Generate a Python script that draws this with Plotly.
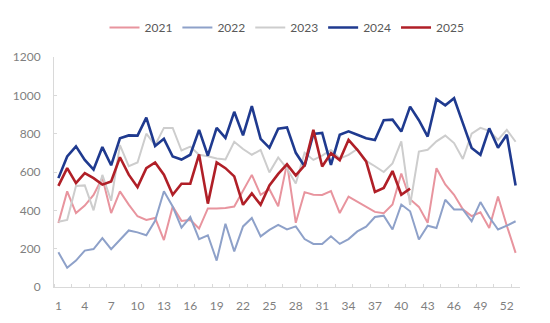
import plotly.graph_objects as go

weeks = list(range(1, 54))

y2021 = [334, 499, 386, 425, 480, 570, 386, 499, 430, 369, 350, 360, 245, 420, 345, 350, 305, 410,
         410, 412, 420, 500, 585, 481, 510, 421, 645, 335, 495, 481, 480, 500, 386, 472, 446, 420,
         392, 385, 430, 592, 458, 418, 335, 620, 535, 481, 405, 370, 390, 308, 472, 320, 178]
y2022 = [181, 100, 138, 190, 198, 255, 197, 247, 295, 285, 270, 345, 500, 420, 310, 365, 250, 270,
         138, 330, 186, 316, 360, 264, 298, 324, 300, 316, 250, 225, 225, 265, 225, 250, 290, 315,
         365, 372, 300, 430, 395, 248, 320, 308, 455, 405, 405, 343, 443, 365, 300, 320, 343]
y2023 = [340, 350, 527, 530, 400, 585, 450, 740, 630, 650, 800, 740, 830, 830, 712, 732, 690, 682,
         670, 665, 758, 720, 690, 715, 598, 676, 618, 540, 700, 663, 685, 715, 670, 689, 720, 658,
         630, 600, 645, 760, 428, 707, 716, 760, 790, 751, 668, 800, 830, 815, 768, 820, 758]
y2024 = [568, 681, 734, 663, 613, 730, 635, 776, 791, 790, 884, 736, 773, 681, 665, 690, 820, 685,
         830, 778, 914, 791, 944, 773, 726, 826, 833, 700, 630, 799, 804, 637, 794, 812, 794, 776,
         767, 870, 873, 811, 941, 870, 785, 980, 948, 985, 855, 725, 690, 828, 727, 794, 530]
y2025 = [528, 620, 542, 594, 568, 534, 551, 677, 586, 521, 620, 650, 586, 481, 539, 539, 692, 435,
         650, 620, 577, 429, 488, 429, 530, 590, 640, 582, 635, 820, 629, 698, 662, 768, 716, 655,
         496, 517, 605, 481, 513]

x_tick_labels = list(range(1, 54, 3))

series = [
    ("2021", y2021, "#e8949e", 2),
    ("2022", y2022, "#8ea1c9", 2),
    ("2023", y2023, "#cdcdcd", 2),
    ("2024", y2024, "#1f3a8f", 2.6),
    ("2025", y2025, "#b01f27", 2.6),
]

fig = go.Figure()
for name, vals, color, width in series:
    fig.add_trace(go.Scatter(
        x=weeks[:len(vals)], y=vals, name=name, mode="lines",
        line=dict(color=color, width=width),
    ))

axis_color = "#d9d9d9"
label_color = "#7f7f7f"

fig.update_layout(
    width=550, height=323,
    margin=dict(l=54, r=30, t=57, b=36, autoexpand=False),
    paper_bgcolor="white", plot_bgcolor="white",
    font=dict(family="Lato, 'Open Sans', sans-serif", size=12, color=label_color),
    showlegend=True,
    legend=dict(orientation="h", x=0.5, xanchor="center", y=0.915, yanchor="middle",
                yref="container", font=dict(size=12, color="#595959"),
                itemwidth=30, tracegroupgap=0),
)

fig.update_xaxes(
    range=[0.5, 53.5], tickmode="array", tickvals=x_tick_labels,
    ticktext=[str(v) for v in x_tick_labels], automargin=False,
    showgrid=False, zeroline=False, showline=True, linecolor=axis_color, linewidth=1,
    ticks="", tickfont=dict(size=12, color=label_color), ticklabelstandoff=8,
    minor=dict(ticks="inside", tick0=0.5, dtick=2, ticklen=3, tickcolor=axis_color, showgrid=False),
)
fig.update_yaxes(
    range=[0, 1200], tickmode="linear", tick0=0, dtick=200, automargin=False,
    showgrid=False, zeroline=False, showline=True, linecolor=axis_color, linewidth=1,
    ticks="inside", ticklen=3, tickcolor=axis_color,
    tickfont=dict(size=12, color=label_color), ticklabelstandoff=10,
)

fig.write_html("out.html")
